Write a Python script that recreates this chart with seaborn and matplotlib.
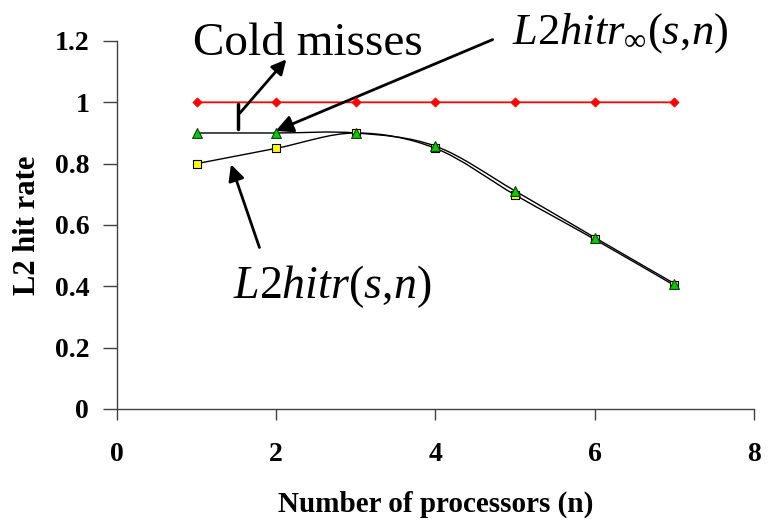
import numpy as np
import pandas as pd
import matplotlib
matplotlib.use('Agg')
import matplotlib.pyplot as plt
from matplotlib.path import Path
from matplotlib.patches import PathPatch
import seaborn as sns

# values
procs = [1, 2, 3, 4, 5, 6, 7]
cold = [1.0, 1.0, 1.0, 1.0, 1.0, 1.0, 1.0]
hitr_inf = [0.90, 0.90, 0.90, 0.857, 0.711, 0.559, 0.409]
hitr = [0.80, 0.85, 0.90, 0.850, 0.698, 0.553, 0.403]
ytick_vals = [0, 0.2, 0.4, 0.6, 0.8, 1.0, 1.2]
ytick_labels = ['0', '0.2', '0.4', '0.6', '0.8', '1', '1.2']
xtick_vals = [0, 2, 4, 6, 8]
xtick_labels = ['0', '2', '4', '6', '8']

sns.set_style('ticks')
plt.rcParams['font.family'] = ['Liberation Serif', 'DejaVu Serif']
plt.rcParams['mathtext.fontset'] = 'custom'
plt.rcParams['mathtext.rm'] = 'Liberation Serif'
plt.rcParams['mathtext.it'] = 'Liberation Serif:italic'
plt.rcParams['text.color'] = 'black'
plt.rcParams['axes.labelcolor'] = 'black'
plt.rcParams['xtick.labelcolor'] = 'black'
plt.rcParams['ytick.labelcolor'] = 'black'


def smooth_line(ax, xs, ys, **kw):
    # Excel style smoothed line: cubic bezier through the points
    pts = np.column_stack([xs, ys]).astype(float)
    n = len(pts)
    verts = [pts[0]]
    codes = [Path.MOVETO]
    for i in range(n - 1):
        p0 = pts[i - 1] if i > 0 else pts[i]
        p1 = pts[i]
        p2 = pts[i + 1]
        p3 = pts[i + 2] if i + 2 < n else pts[i + 1]
        c1 = p1 + (p2 - p0) / 6.0
        c2 = p2 - (p3 - p1) / 6.0
        verts += [c1, c2, p2]
        codes += [Path.CURVE4] * 3
    ax.add_patch(PathPatch(Path(verts, codes), facecolor='none', **kw))


df = pd.DataFrame({'n': procs, 'cold': cold, 'inf': hitr_inf, 'hitr': hitr})

fig = plt.figure(figsize=(7.76, 5.22), dpi=100)
ax = fig.add_axes([0.1508, 0.2165, 0.8208, 0.705])

smooth_line(ax, df['n'], df['hitr'], edgecolor='black', lw=1.0, zorder=2)
smooth_line(ax, df['n'], df['inf'], edgecolor='black', lw=1.0, zorder=2)
smooth_line(ax, df['n'], df['cold'], edgecolor='#FF0000', lw=1.3, zorder=2)

sns.scatterplot(data=df, x='n', y='hitr', marker='s', s=36, color='#FFFF00',
                edgecolor='black', linewidth=0.8, ax=ax, zorder=3)
sns.scatterplot(data=df, x='n', y='inf', marker='^', s=50, color='#00CC00',
                edgecolor='#1a3a1a', linewidth=0.8, ax=ax, zorder=4)
sns.scatterplot(data=df, x='n', y='cold', marker='D', s=22, color='#FF0000',
                edgecolor='#FF0000', linewidth=0.5, ax=ax, zorder=4)

ax.set_xlim(0, 8)
ax.set_ylim(0, 1.2)
ax.set_xticks(xtick_vals)
ax.set_xticklabels(xtick_labels, fontweight='bold', fontsize=20, color='black')
ax.set_yticks(ytick_vals)
ax.set_yticklabels(ytick_labels, fontweight='bold', fontsize=20, color='black')
ax.tick_params(axis='x', direction='out', length=8, width=1, pad=16, color='#404040')
ax.tick_params(axis='y', direction='out', length=10, width=1, pad=10, color='#404040')
for side in ['top', 'right']:
    ax.spines[side].set_visible(False)
for side in ['left', 'bottom']:
    ax.spines[side].set_color('#404040')
    ax.spines[side].set_linewidth(1)

ax.set_xlabel('Number of processors (n)', fontweight='bold', fontsize=21, labelpad=17)
ax.set_ylabel('L2 hit rate', fontweight='bold', fontsize=22, labelpad=9)

# annotations
ax.plot([1.52, 1.52], [0.914, 0.993], color='black', lw=2.5, zorder=5)
ax.annotate('', xy=(2.15, 1.147), xytext=(1.52, 0.958),
            arrowprops=dict(arrowstyle='-|>', color='black', lw=2, mutation_scale=22),
            annotation_clip=False)
ax.text(0.955, 1.153, 'Cold misses', fontsize=34, ha='left', va='baseline')

ax.annotate('', xy=(1.96, 0.903), xytext=(4.75, 1.208),
            arrowprops=dict(arrowstyle='-|>', color='black', lw=2, mutation_scale=26),
            annotation_clip=False)
ax.text(4.96, 1.192, r'$\mathit{L2hitr}_{\infty}(s,\!n)$', fontsize=32,
        ha='left', va='baseline', clip_on=False)

ax.annotate('', xy=(1.42, 0.806), xytext=(1.8, 0.518),
            arrowprops=dict(arrowstyle='-|>', color='black', lw=2, mutation_scale=24),
            annotation_clip=False)
ax.text(1.457, 0.3616, r'$\mathit{L2hitr}(s,\!n)$', fontsize=33,
        ha='left', va='baseline')

fig.savefig('out.png', dpi=100)
